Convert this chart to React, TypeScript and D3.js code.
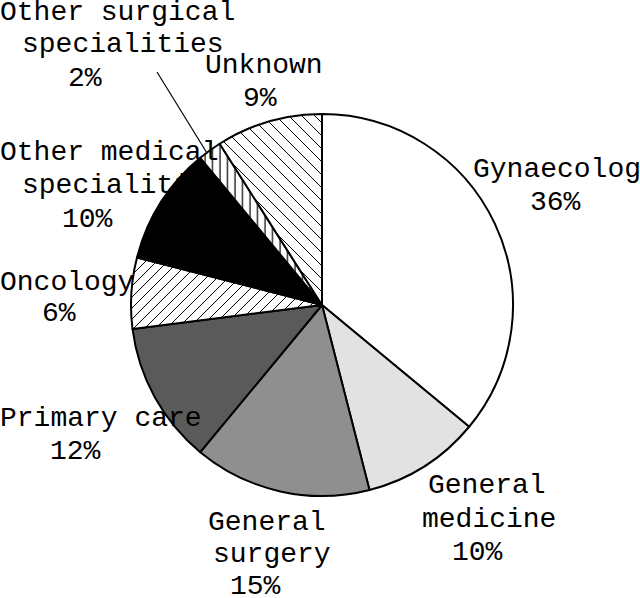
import React from "react";
import * as d3 from "d3";

// slices, clockwise from 12 o'clock
const categories = [
  "Gynaecology",
  "General medicine",
  "General surgery",
  "Primary care",
  "Oncology",
  "Other medical specialities",
  "Other surgical specialities",
  "Unknown",
];
const percents = [36, 10, 15, 12, 6, 10, 2, 9];

// label text lines per slice
const labelLines = [
  ["Gynaecology", "36%"],
  ["General", "medicine", "10%"],
  ["General", "surgery", "15%"],
  ["Primary care", "12%"],
  ["Oncology", "6%"],
  ["Other medical", "specialities", "10%"],
  ["Other surgical", "specialities", "2%"],
  ["Unknown", "9%"],
];

// layout of labels: x per line, baseline of each line
const labelX = [
  [473, 530],
  [428, 422, 452],
  [208, 213, 230],
  [0, 50],
  [0, 42],
  [0, 22, 62],
  [0, 22, 68],
  [205, 243],
];
const labelY = [
  [177, 210],
  [493, 527, 560],
  [530, 562, 594],
  [426, 459],
  [290, 321],
  [160, 193, 227],
  [20, 52, 86],
  [73, 106],
];

const fills = [
  "#ffffff",
  "#e2e2e2",
  "#8f8f8f",
  "#5a5a5a",
  "url(#hatchOnc)",
  "#000000",
  "url(#hatchVert)",
  "url(#hatchUnk)",
];

const width = 640;
const height = 598;
const cx = 322;
const cy = 305;
const radius = 191;

export default function App() {
  const pie = d3
    .pie<number>()
    .sort(null)
    .value((d) => d)
    .startAngle(0)
    .endAngle(2 * Math.PI);
  const arcs = pie(percents);
  const arc = d3.arc<d3.PieArcDatum<number>>().innerRadius(0).outerRadius(radius);

  // leader line for the tiny "Other surgical" slice
  const small = arcs[6];
  const a = (small.startAngle + small.endAngle) / 2 - 0.02;
  const lx = Math.sin(a) * (radius - 1);
  const ly = -Math.cos(a) * (radius - 1);

  return (
    <svg
      width={width}
      height={height}
      style={{ position: "absolute", left: 0, top: 0, background: "#fff" }}
    >
      <defs>
        <pattern id="hatchOnc" patternUnits="userSpaceOnUse" width={11} height={11}>
          <rect width={11} height={11} fill="#fff" />
          <path d="M-1,12 L12,-1 M-1,1 L1,-1 M10,12 L12,10" stroke="#000" strokeWidth={1} />
        </pattern>
        <pattern id="hatchUnk" patternUnits="userSpaceOnUse" width={13} height={13}>
          <rect width={13} height={13} fill="#fff" />
          <path d="M-1,-1 L14,14 M-1,12 L1,14 M12,-1 L14,1" stroke="#000" strokeWidth={1} />
        </pattern>
        <pattern id="hatchVert" patternUnits="userSpaceOnUse" width={7.5} height={10}>
          <rect width={7.5} height={10} fill="#fff" />
          <line x1={3} y1={0} x2={3} y2={10} stroke="#000" strokeWidth={1.2} />
        </pattern>
      </defs>
      <g transform={`translate(${cx},${cy})`}>
        {arcs.map((d, i) => (
          <path
            key={categories[i]}
            d={arc(d) || ""}
            fill={fills[i]}
            stroke="#000"
            strokeWidth={2}
            strokeLinejoin="round"
          />
        ))}
        <line x1={157 - cx} y1={72 - cy} x2={lx} y2={ly} stroke="#000" strokeWidth={1.2} />
      </g>
      <g fontFamily="'Liberation Mono', 'DejaVu Sans Mono', monospace" fontSize={28} fill="#000">
        {labelLines.map((lines, i) =>
          lines.map((t, j) => (
            <text key={`${i}-${j}`} x={labelX[i][j]} y={labelY[i][j]}>
              {t}
            </text>
          ))
        )}
      </g>
    </svg>
  );
}
